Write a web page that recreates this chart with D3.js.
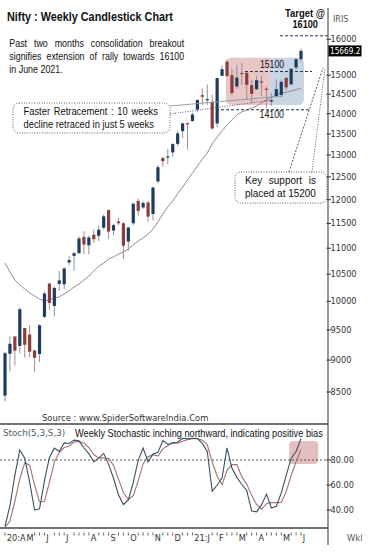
<!DOCTYPE html>
<html><head><meta charset="utf-8">
<script src="https://cdn.jsdelivr.net/npm/d3@7"></script>
<style>html,body{margin:0;padding:0;background:#fff;}svg{display:block;}</style>
</head><body>
<svg id="c" width="378" height="556"></svg>
<script>
// ---------------- DATA ----------------
const weeks = ["2020-04-09","2020-04-17","2020-04-24","2020-04-30","2020-05-08","2020-05-15","2020-05-22","2020-05-29","2020-06-05","2020-06-12","2020-06-19","2020-06-26","2020-07-03","2020-07-10","2020-07-17","2020-07-24","2020-07-31","2020-08-07","2020-08-14","2020-08-21","2020-08-28","2020-09-04","2020-09-11","2020-09-18","2020-09-25","2020-10-01","2020-10-09","2020-10-16","2020-10-23","2020-10-30","2020-11-06","2020-11-13","2020-11-20","2020-11-27","2020-12-04","2020-12-11","2020-12-18","2020-12-24","2020-12-31","2021-01-08","2021-01-15","2021-01-22","2021-01-29","2021-02-05","2021-02-12","2021-02-19","2021-02-26","2021-03-05","2021-03-12","2021-03-19","2021-03-26","2021-04-01","2021-04-09","2021-04-16","2021-04-23","2021-04-30","2021-05-07","2021-05-14","2021-05-21","2021-05-28","2021-06-04"];
const monthLabels = ["20:A","","","","M","","","","J","","","","J","","","","","A","","","","S","","","","O","","","","","N","","","","D","","","","21:J","","","","","F","","","","M","","","","A","","","","","M","","","","J"];
const open  = [8446,9103,9390,9232,9533,9422,9158,9099,9726,10326,9919,10319,10311,10723,10851,10902,11225,11057,11270,11248,11412,11777,11354,11540,11503,11134,11504,11973,11834,11937,11697,12399,12930,12960,13062,13264,13571,13765,13815,14104,14474,14371,14300,13758,14983,15371,14999,14702,15064,15064,14736,14628,14837,14644,14306,14449,14481,14928,14757,15211,15437];
const high  = [9131,9390,9390,9889,9533,9584,9158,9598,10177,10328,10272,10553,10631,10847,10933,11240,11341,11256,11373,11460,11686,11794,11493,11618,11535,11428,11938,12025,11975,11975,12280,12770,12963,13145,13280,13579,13773,13778,14024,14367,14653,14754,14491,14932,15257,15432,15176,15273,15336,15110,14878,14984,14984,14697,14527,14890,14890,14966,15189,15469,15733];
const low   = [8360,8822,8909,9111,9043,9040,8806,8968,9706,9845,9729,10194,10223,10676,10562,10894,10882,10882,11111,11144,11374,11185,11254,11465,10790,10950,11465,11661,11800,11535,11557,12359,12730,12790,12962,13215,13402,13131,13810,14049,14222,14222,13596,13662,14977,14950,14467,14635,14745,14350,14264,14617,14459,14151,14191,14415,14416,14591,14747,15143,15373];
const close = [9112,9267,9154,9860,9251,9137,9039,9580,10142,9972,10244,10383,10607,10768,10901,11194,11073,11214,11178,11372,11647,11333,11464,11505,11050,11417,11914,11762,11930,11642,12264,12720,12859,12969,13258,13514,13761,13749,13982,14347,14433,14372,13635,14924,15163,14982,14529,14938,15031,14744,14507,14867,14835,14617,14341,14631,14823,14678,15175,15436,15669.2];
const movingAvg = [10710,10540,10390,10300,10225,10150,10100,10040,10005,10025,10060,10080,10135,10190,10260,10315,10390,10465,10560,10655,10710,10790,10830,10885,10925,10985,11065,11145,11205,11285,11385,11530,11695,11845,11970,12125,12275,12430,12590,12745,12910,13050,13260,13425,13575,13720,13845,13970,14045,14095,14145,14195,14270,14350,14425,14480,14530,14545,14580,14620,14660];
const stochK = [27,43.4,67.7,88,81.4,62.1,40,41,63.5,81.8,89.5,86.8,93.7,93.2,95.9,95.3,89.6,85.1,78.6,81.5,85.3,76.5,65.4,52.2,44.4,48,62.1,79.7,89.6,78.5,84.9,86.1,95.6,92.6,93.5,94.2,97.4,96.9,97.3,97.2,93.3,86.8,55.1,59.8,65.7,89.7,73.5,66.1,60.4,55.6,39.2,38.5,44.1,52.7,41.6,43,53.7,67.7,81.3,86.8,97];
const stochD = [26.1,31.2,47,65,77.7,75.8,60,46.4,46.9,62,78.3,86,90,91.2,94.3,94.8,93.6,90,84.4,81.7,81.8,81.1,75.7,64.7,54,48.2,51.5,63.3,77.1,82.6,84.3,83.2,88.9,91.4,93.9,93.4,95,96.2,97.2,97.1,95.9,92.4,78.4,67.2,60.2,71.7,76.3,76.4,66.7,60.7,51.7,44.4,40.6,45.1,46.1,45.8,46.1,54.8,67.6,78.6,88.4];
const priceTicks = [8500,9000,9500,10000,10500,11000,11500,12000,12500,13000,13500,14000,14500,15000,16000];
const stochTicks = [40,60,80];
const stochSignal = 80;
const lastPrice = 15669.2;
const targetLevel = 16100;
const resistanceLevel = 15100;
const supportLevel = 14100;
const keySupport = 15200;
const zoneTop = 15480, zoneBottom = 14220;
const zoneStart = 44.8, zoneSplit = 53.7, zoneEnd = 60.6;
const stochZone = [57.6, 63.5, 76.8, 95.2];

// ---------------- SETUP ----------------
const svg = d3.select('#c');
const SANS = "'Liberation Sans', Arial, Helvetica, sans-serif";
const TAH = "'DejaVu Sans', Verdana, Tahoma, sans-serif";
const n = weeks.length;
const x = d3.scaleLinear().domain([0, n - 1]).range([5, 301]);
const y = d3.scaleLog().domain([8000, 16500]).range([425.8, 22.1]);
const ys = d3.scaleLinear().domain([25.6, 108.8]).range([528, 424]);
const AX = 328;

function measure(str, size, weight, family) {
  const t = svg.append('text').attr('font-family', family || SANS).attr('font-size', size)
    .attr('font-weight', weight || 'normal').text(str);
  const w = t.node().getComputedTextLength(); t.remove(); return w;
}
// text squeezed horizontally to an exact width (via a scale transform)
function fitText(g, str, x0, yb, width, size, o = {}) {
  const w = measure(str, size, o.weight, o.family);
  const f = width / w;
  return g.append('text').attr('transform', `translate(${x0},${yb}) scale(${f},1)`)
    .attr('font-family', o.family || SANS).attr('font-size', size)
    .attr('font-weight', o.weight || 'normal').attr('fill', o.fill || '#111').text(str);
}
// justified line: words compressed by k, spread across width
function justifyText(g, str, x0, yb, width, size, k, o = {}) {
  const words = str.split(/\s+/);
  const nat = words.map(w => measure(w, size, o.weight, o.family));
  const minGap = size * 0.22;
  const kk = Math.min(k, (width - minGap * (words.length - 1)) / d3.sum(nat));
  const gapU = (width / kk - d3.sum(nat)) / (words.length - 1);
  const t = g.append('text').attr('transform', `translate(${x0},${yb}) scale(${kk},1)`)
    .attr('font-family', o.family || SANS).attr('font-size', size)
    .attr('font-weight', o.weight || 'normal').attr('fill', o.fill || '#111');
  let cx = 0;
  words.forEach((w, i) => { t.append('tspan').attr('x', cx).text(w); cx += nat[i] + gapU; });
}
function rrPath(x0, y0, x1, y1, rl, rr) {
  return `M${x0 + rl},${y0} H${x1 - rr} Q${x1},${y0} ${x1},${y0 + rr} V${y1 - rr} Q${x1},${y1} ${x1 - rr},${y1} H${x0 + rl} Q${x0},${y1} ${x0},${y1 - rl} V${y0 + rl} Q${x0},${y0} ${x0 + rl},${y0} Z`;
}

// ---------------- MAIN PANEL ----------------
const gMain = svg.append('g');
gMain.append('path').attr('d', rrPath(x(zoneStart), y(zoneTop), x(zoneSplit), y(zoneBottom), 6, 0)).attr('fill', '#e8c7c7');
gMain.append('path').attr('d', rrPath(x(zoneSplit), y(zoneTop), x(zoneEnd), y(zoneBottom), 0, 6)).attr('fill', '#c9d5e3');

gMain.append('path').datum(movingAvg)
  .attr('d', d3.line().x((d, i) => x(i)).y(d => y(d)))
  .attr('fill', 'none').attr('stroke', '#a08686').attr('stroke-width', 1);

const idx = d3.range(n);
gMain.selectAll('line.wick').data(idx).join('line').attr('class', 'wick')
  .attr('x1', i => x(i)).attr('x2', i => x(i))
  .attr('y1', i => y(high[i])).attr('y2', i => y(low[i]))
  .attr('stroke', i => close[i] >= open[i] ? '#8694a2' : '#b38686').attr('stroke-width', 1);
gMain.selectAll('rect.body').data(idx).join('rect').attr('class', 'body')
  .attr('x', i => x(i) - 1.6).attr('width', 3.2)
  .attr('y', i => y(Math.max(open[i], close[i])))
  .attr('height', i => Math.max(1.2, Math.abs(y(open[i]) - y(close[i]))))
  .attr('fill', i => close[i] >= open[i] ? '#1c3c5e' : '#8d3b3b');

const dashCol = '#1d3352';
gMain.append('line').attr('x1', 280).attr('x2', AX).attr('y1', y(targetLevel)).attr('y2', y(targetLevel))
  .attr('stroke', dashCol).attr('stroke-dasharray', '3,2').attr('stroke-width', 1);
gMain.append('line').attr('x1', 245).attr('x2', 312).attr('y1', y(resistanceLevel)).attr('y2', y(resistanceLevel))
  .attr('stroke', dashCol).attr('stroke-dasharray', '3,2').attr('stroke-width', 1);
gMain.append('line').attr('x1', 216).attr('x2', 310).attr('y1', y(supportLevel)).attr('y2', y(supportLevel))
  .attr('stroke', dashCol).attr('stroke-dasharray', '3,2').attr('stroke-width', 1);
fitText(gMain, String(resistanceLevel), 260, y(resistanceLevel) - 3.5, 24, 11.5);
fitText(gMain, String(supportLevel), 259.5, y(supportLevel) + 8.5, 24.5, 11.5);

fitText(gMain, 'Target @', 285, 16.7, 40, 11.5, { weight: 'bold' });
fitText(gMain, String(targetLevel), 292.5, 28.3, 25.5, 11.5, { weight: 'bold' });

fitText(gMain, 'Nifty : Weekly Candlestick Chart', 7, 21, 166, 12.5, { weight: 'bold' });
const k1 = 53.5 / measure('in June 2021.', 10.5);
justifyText(gMain, 'Past two months consolidation breakout', 9.3, 46.7, 175, 10.5, k1);
justifyText(gMain, 'signifies extension of rally towards 16100', 9.3, 59.5, 175, 10.5, k1);
fitText(gMain, 'in June 2021.', 9.3, 72.5, 53.5, 10.5);

const dotCol = '#3d4d68';
gMain.append('line').attr('x1', 170).attr('y1', 106).attr('x2', 283).attr('y2', 96)
  .attr('stroke', '#8a96a4').attr('stroke-width', 0.9);
gMain.append('line').attr('x1', 170).attr('y1', 114).attr('x2', 272).attr('y2', 100)
  .attr('stroke', dotCol).attr('stroke-width', 0.9).attr('stroke-dasharray', '1,1.5');
gMain.append('rect').attr('x', 13).attr('y', 103).attr('width', 157).attr('height', 30).attr('rx', 6)
  .attr('fill', '#fff').attr('stroke', dotCol).attr('stroke-width', 0.9).attr('stroke-dasharray', '1,1.5');
const k2 = 130.5 / measure('decline retraced in just 5 weeks', 11);
justifyText(gMain, 'Faster Retracement : 10 weeks', 23.5, 115.3, 134.5, 11, k2);
fitText(gMain, 'decline retraced in just 5 weeks', 23.5, 127.8, 130.5, 11);

gMain.append('line').attr('x1', 289).attr('y1', 172).attr('x2', AX - 5).attr('y2', y(keySupport))
  .attr('stroke', dotCol).attr('stroke-width', 0.9).attr('stroke-dasharray', '2,1.5');
gMain.append('line').attr('x1', 312).attr('y1', 172).attr('x2', AX - 3).attr('y2', y(keySupport))
  .attr('stroke', dotCol).attr('stroke-width', 0.9).attr('stroke-dasharray', '1,1.5');
gMain.append('rect').attr('x', 235).attr('y', 172).attr('width', 92).attr('height', 31).attr('rx', 6)
  .attr('fill', '#fff').attr('stroke', dotCol).attr('stroke-width', 0.9).attr('stroke-dasharray', '1,1.5');
const k3 = 71 / measure('placed at 15200', 11);
justifyText(gMain, 'Key support is', 245, 184, 71, 11, k3);
fitText(gMain, 'placed at 15200', 245, 196.7, 71, 11);

fitText(gMain, 'Source : www.SpiderSoftwareIndia.Com', 42, 420.5, 166, 8.4, { family: TAH, fill: '#333' });

// ---------------- AXIS ----------------
const gAx = svg.append('g');
gAx.append('line').attr('x1', AX).attr('x2', AX).attr('y1', 8).attr('y2', 545).attr('stroke', '#333').attr('stroke-width', 1);
priceTicks.forEach(v => {
  gAx.append('line').attr('x1', AX - 1.5).attr('x2', AX + 3).attr('y1', y(v)).attr('y2', y(v)).attr('stroke', '#333');
  gAx.append('text').attr('x', AX + 2.5).attr('y', y(v)).attr('dy', '0.35em')
    .attr('font-family', TAH).attr('font-size', 8.2).attr('fill', '#333').text(v);
});
gAx.append('text').attr('x', 333).attr('y', 22).attr('font-family', TAH).attr('font-size', 8).attr('fill', '#555').text('IRIS');
gAx.append('rect').attr('x', AX + 0.5).attr('y', y(lastPrice) - 5.5).attr('width', 33).attr('height', 11).attr('fill', '#000');
fitText(gAx, lastPrice.toFixed(1), AX + 2, y(lastPrice) + 3.3, 30.5, 8.6, { family: TAH, fill: '#fff' });

// ---------------- STOCH PANEL ----------------
const gS = svg.append('g');
gS.append('line').attr('x1', 0).attr('x2', AX).attr('y1', 424).attr('y2', 424).attr('stroke', '#444').attr('stroke-width', 1.4);
gS.append('line').attr('x1', 0).attr('x2', AX).attr('y1', 528).attr('y2', 528).attr('stroke', '#444').attr('stroke-width', 1.4);
gS.append('rect').attr('x', x(stochZone[0])).attr('width', x(stochZone[1]) - x(stochZone[0]))
  .attr('y', ys(stochZone[3])).attr('height', ys(stochZone[2]) - ys(stochZone[3])).attr('rx', 4).attr('fill', '#e3bfbf');
gS.append('line').attr('x1', 0).attr('x2', AX).attr('y1', ys(stochSignal)).attr('y2', ys(stochSignal))
  .attr('stroke', '#555').attr('stroke-dasharray', '2,2').attr('stroke-width', 1);
gS.append('path').datum(stochD).attr('d', d3.line().x((d, i) => x(i)).y(d => ys(d)))
  .attr('fill', 'none').attr('stroke', '#a57272').attr('stroke-width', 1.1);
gS.append('path').datum(stochK).attr('d', d3.line().x((d, i) => x(i)).y(d => ys(d)))
  .attr('fill', 'none').attr('stroke', '#3a5264').attr('stroke-width', 1.1);
stochTicks.forEach(v => {
  gS.append('line').attr('x1', AX - 1.5).attr('x2', AX + 3).attr('y1', ys(v)).attr('y2', ys(v)).attr('stroke', '#333');
  gS.append('text').attr('x', AX + 2.5).attr('y', ys(v)).attr('dy', '0.35em')
    .attr('font-family', TAH).attr('font-size', 8.2).attr('fill', '#333').text(v.toFixed(2));
});
fitText(gS, 'Stoch(5,3,S,3)', 3, 436, 62, 8.4, { family: TAH, fill: '#4d5c6b' });
fitText(gS, 'Weekly Stochastic inching northward, indicating positive bias', 75, 437, 248, 10.5);

// ---------------- TIME AXIS ----------------
const gT = svg.append('g');
const covered = [];
monthLabels.forEach((lab, i) => {
  if (!lab) return;
  const t = gT.append('text').attr('x', x(i) + 1.8).attr('y', 541).attr('font-family', TAH)
    .attr('font-size', 8.2).attr('fill', '#333').text(lab);
  const w = t.node().getComputedTextLength();
  covered.push([x(i) + 1, x(i) + 1.8 + w + 0.8]);
});
idx.forEach(i => {
  const xi = x(i);
  if (covered.some(([a, b]) => xi > a && xi < b)) return;
  gT.append('line').attr('x1', xi).attr('x2', xi).attr('y1', 532.5).attr('y2', 535.5).attr('stroke', '#555').attr('stroke-width', 0.9);
});
gT.append('text').attr('x', 347).attr('y', 541).attr('font-family', TAH).attr('font-size', 8.4).attr('fill', '#555').text('Wkl');
</script>
</body></html>
